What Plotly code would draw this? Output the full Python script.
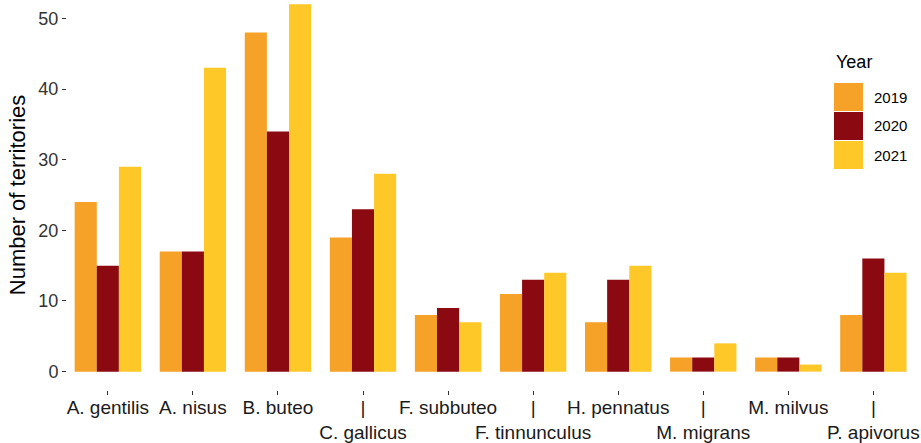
import plotly.graph_objects as go

species = ["A. gentilis", "A. nisus", "B. buteo", "C. gallicus", "F. subbuteo",
           "F. tinnunculus", "H. pennatus", "M. migrans", "M. milvus", "P. apivorus"]
tick_labels = ["A. gentilis", "A. nisus", "B. buteo", "|<br>C. gallicus", "F. subbuteo",
               "|<br>F. tinnunculus", "H. pennatus", "|<br>M. migrans", "M. milvus", "|<br>P. apivorus"]
years = ["2019", "2020", "2021"]
v2019 = [24, 17, 48, 19, 8, 11, 7, 2, 2, 8]
v2020 = [15, 17, 34, 23, 9, 13, 13, 2, 2, 16]
v2021 = [29, 43, 52, 28, 7, 14, 15, 4, 1, 14]
colors = ["#F6A128", "#8B0A12", "#FEC928"]

FONT = "Liberation Sans, Arial, sans-serif"
L, R, T, B = 67, 0, 0, 53
W, H = 921, 443
PW, PH = W - L - R, H - T - B

def px(x):
    return (x - L) / PW

def py(y):
    return (H - B - y) / PH

fig = go.Figure()
for yr, vals, col in zip(years, [v2019, v2020, v2021], colors):
    fig.add_trace(go.Bar(x=species, y=vals, name=yr, marker=dict(color=col, line=dict(width=0)),
                         showlegend=False))

fig.update_layout(
    width=W, height=H,
    margin=dict(l=L, r=R, t=T, b=B),
    paper_bgcolor="white", plot_bgcolor="white",
    barmode="group", bargap=0.22, bargroupgap=0,
    font=dict(family=FONT, color="black"),
)
fig.update_xaxes(
    type="category", range=[-0.48, 9.56], automargin=False,
    tickmode="array", tickvals=species, ticktext=tick_labels, tickangle=0,
    ticks="outside", ticklen=4, tickwidth=1, tickcolor="#333333",
    tickfont=dict(size=19, color="#1a1a1a"), ticklabelstandoff=-4,
    showgrid=False, showline=False, zeroline=False,
)
fig.update_yaxes(
    range=[-2.6, 52.6], tickvals=[0, 10, 20, 30, 40, 50], automargin=False,
    ticks="outside", ticklen=4, tickwidth=1, tickcolor="#333333",
    tickfont=dict(size=18, color="#333333"),
    showgrid=False, showline=False, zeroline=False,
    title=dict(text="Number of territories", font=dict(size=22, color="black"), standoff=6),
)

# legend drawn manually with large keys
fig.add_annotation(x=px(834), y=py(62), xref="paper", yref="paper", text="Year",
                   showarrow=False, xanchor="left", yanchor="middle",
                   font=dict(size=18, color="black"))
for i, (yr, col) in enumerate(zip(years, colors)):
    top = 83 + i * 29
    fig.add_shape(type="rect", xref="paper", yref="paper",
                  x0=px(834), x1=px(863), y0=py(top + 28), y1=py(top),
                  fillcolor=col, line=dict(width=0))
    fig.add_annotation(x=px(872), y=py(top + 14),
                       xref="paper", yref="paper", text=yr, showarrow=False,
                       xanchor="left", yanchor="middle", font=dict(size=15, color="black"))

fig.write_html("out.html", config={"displayModeBar": False},
               post_script="document.body.style.margin='0';document.body.style.overflow='hidden';")
